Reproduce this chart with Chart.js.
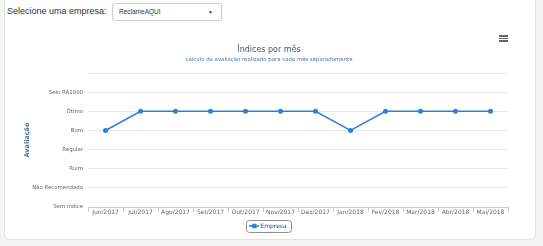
<!DOCTYPE html>
<html>
<head>
<meta charset="utf-8">
<script src="https://cdn.jsdelivr.net/npm/chart.js@4"></script>
<style>
  html, body { margin: 0; padding: 0; }
  body { width: 543px; height: 246px; background: #f4f4f4; position: relative; overflow: hidden; font-family: "Liberation Sans", Arial, sans-serif; }
  #panel { position: absolute; left: 4px; top: -6px; width: 530px; height: 244px; background: #fff; border: 1px solid #e2e2e2; border-radius: 6px; }
  #lbl { position: absolute; left: 7px; top: 6px; font-size: 9px; color: #333; }
  #sel { position: absolute; left: 112px; top: 3px; width: 108px; height: 16px; border: 1px solid #ccc; border-radius: 3px; background: #fff; font-size: 6.5px; color: #333; }
  #sel span { position: absolute; left: 6px; top: 4px; }
  #sel b { position: absolute; right: 8px; top: 5px; font-size: 5px; font-weight: normal; }
  #wrap { position: absolute; left: 5px; top: 27px; width: 530px; height: 212px; }
  #menu { position: absolute; left: 499px; top: 35px; width: 9px; }
  #menu div { height: 1.5px; background: #666; margin-bottom: 1.2px; }
</style>
</head>
<body>
<div id="panel"></div>
<div id="lbl">Selecione uma empresa:</div>
<div id="sel"><span>ReclameAQUI</span><b>&#9660;</b></div>
<div id="wrap"><canvas id="chart" width="530" height="212"></canvas></div>
<div id="menu"><div></div><div></div><div></div></div>
<script>
// dados
var months = ['Jun/2017', 'Jul/2017', 'Ago/2017', 'Set/2017', 'Out/2017', 'Nov/2017',
  'Dez/2017', 'Jan/2018', 'Fev/2018', 'Mar/2018', 'Abr/2018', 'Mai/2018'];
var levels = ['Sem índice', 'Não Recomendada', 'Ruim', 'Regular', 'Bom', 'Ótimo', 'Selo RA1000', ''];
var empresa = [4, 5, 5, 5, 5, 5, 5, 4, 5, 5, 5, 5];

var blue = '#2f7ed8';
var fontFam = '"DejaVu Sans", Verdana, sans-serif';

// marcador da legenda: linha com ponto
var mk = document.createElement('canvas');
mk.width = 10; mk.height = 6;
var mc = mk.getContext('2d');
mc.strokeStyle = blue; mc.lineWidth = 1.5;
mc.beginPath(); mc.moveTo(0, 3); mc.lineTo(10, 3); mc.stroke();
mc.fillStyle = blue;
mc.beginPath(); mc.arc(5, 3, 2.5, 0, Math.PI * 2); mc.fill();

var legendBox = {
  id: 'legendBox',
  afterDraw: function (chart) {
    var lg = chart.legend;
    if (!lg || !lg.legendHitBoxes.length) return;
    var hb = lg.legendHitBoxes[0];
    var c = chart.ctx;
    var x = hb.left - 5, y = hb.top - 3, w = hb.width + 10, h = hb.height + 6;
    c.save();
    c.strokeStyle = '#909090';
    c.lineWidth = 1;
    c.beginPath();
    c.roundRect(Math.round(x) + 0.5, Math.round(y) + 0.5, Math.round(w), Math.round(h), 3);
    c.stroke();
    c.restore();
  }
};

var ctx = document.getElementById('chart');
new Chart(ctx, {
  type: 'line',
  data: {
    labels: months,
    datasets: [{
      label: 'Empresa',
      data: empresa,
      borderColor: blue,
      backgroundColor: blue,
      borderWidth: 1.5,
      pointRadius: 2.5,
      pointHoverRadius: 3,
      pointBorderWidth: 0,
      tension: 0
    }]
  },
  options: {
    responsive: false,
    animation: false,
    maintainAspectRatio: false,
    layout: { padding: { left: 25, right: 27, top: 0, bottom: 0 } },
    scales: {
      x: {
        offset: true,
        grid: { drawOnChartArea: false, offset: true, tickLength: 5, color: '#c0d0e0' },
        border: { color: '#c0d0e0' },
        ticks: { color: '#666', font: { family: fontFam, size: 6 }, padding: -3, maxRotation: 0, autoSkip: false },
        afterFit: function (s) { s.height = 13; }
      },
      y: {
        min: 0, max: 7,
        ticks: {
          stepSize: 1, color: '#666', padding: 5, autoSkip: false,
          font: { family: fontFam, size: 5.4 },
          callback: function (v) { return levels[v]; }
        },
        grid: { drawTicks: false, color: '#e6e6e6' },
        border: { display: false },
        title: {
          display: true, text: 'Avaliação', color: '#4d759e',
          font: { family: fontFam, size: 6.5, weight: 'bold' },
          padding: { top: -7, bottom: 0 }
        },
        afterFit: function (s) { s.width = 58; }
      }
    },
    plugins: {
      title: {
        display: true, text: 'Índices por mês', color: '#3e576f',
        font: { family: fontFam, size: 8, weight: 'normal' },
        padding: { top: 18, bottom: 2 }
      },
      subtitle: {
        display: true, text: 'cálculo da avaliação realizado para cada mês separadamente',
        color: '#4d759e',
        font: { family: fontFam, size: 5.4 },
        padding: { top: 0, bottom: 10 }
      },
      legend: {
        position: 'bottom',
        labels: {
          usePointStyle: true, pointStyle: mk, padding: 3,
          color: '#274b6d', font: { family: fontFam, size: 6 }
        }
      },
      tooltip: { enabled: false }
    }
  },
  plugins: [legendBox]
});
</script>
</body>
</html>
